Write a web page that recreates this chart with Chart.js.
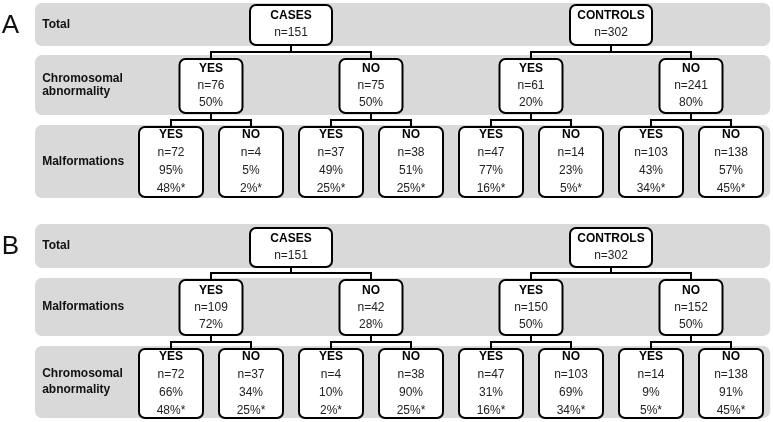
<!DOCTYPE html>
<html>
<head>
<meta charset="utf-8">
<script src="https://cdn.jsdelivr.net/npm/chart.js@4"></script>
<style>
  html, body { margin: 0; padding: 0; background: #fff; }
  #wrap { width: 773px; height: 422px; position: relative; }
</style>
</head>
<body>
<div id="wrap"><canvas id="treeChart"></canvas></div>
<script>
// data
const panelLetters = ['A', 'B'];
const rowLabelsA = [['Total'], ['Chromosomal', 'abnormality'], ['Malformations']];
const rowLabelsB = [['Total'], ['Malformations'], ['Chromosomal', 'abnormality']];
const groupNames = ['CASES', 'CONTROLS'];
const groupN = [151, 302];
const branchNames = ['YES', 'NO'];

const level2NA = [76, 75, 61, 241];
const level2PctA = [50, 50, 20, 80];
const leafNA = [72, 4, 37, 38, 47, 14, 103, 138];
const leafPctA = [95, 5, 49, 51, 77, 23, 43, 57];
const leafTotalPctA = [48, 2, 25, 25, 16, 5, 34, 45];

const level2NB = [109, 42, 150, 152];
const level2PctB = [72, 28, 50, 50];
const leafNB = [72, 37, 4, 38, 47, 103, 14, 138];
const leafPctB = [66, 34, 10, 90, 31, 69, 9, 91];
const leafTotalPctB = [48, 25, 2, 25, 16, 34, 5, 45];

// layout (y in design units, x in leaf-slot units)
const X_MIN = -2.1375, X_MAX = 7.525;
const panelLayout = [
  { bands: [[3, 46], [55, 115], [125, 198]], boxes: [[5, 45], [59, 113], [127, 197]], joins: [52, 120], labelGap: 13 },
  { bands: [[224, 268], [278, 336], [346, 418]], boxes: [[228, 267], [280, 335], [349, 418]], joins: [273, 342], labelGap: 16 }
];
const boxHalfW = [41 / 80, 31.5 / 80, 32 / 80];
const lineOffsets = [[-9, 8], [-17, 0, 17], [-27, -9, 9, 27]];
const FONT = '"Liberation Sans", Arial, sans-serif';

function buildPanel(p, level2N, level2Pct, leafN, leafPct, leafTotalPct) {
  const box = panelLayout[p].boxes;
  const mid = l => (box[l][0] + box[l][1]) / 2;
  const nodes = [];
  groupNames.forEach((g, k) => nodes.push({
    panel: p, level: 0, x: 4 * k + 1.5, y: mid(0),
    lines: [g, 'n=' + groupN[k]], children: [2 + 2 * k, 3 + 2 * k]
  }));
  level2N.forEach((n, j) => nodes.push({
    panel: p, level: 1, x: 2 * j + 0.5, y: mid(1),
    lines: [branchNames[j % 2], 'n=' + n, level2Pct[j] + '%'], children: [6 + 2 * j, 7 + 2 * j]
  }));
  leafN.forEach((n, i) => nodes.push({
    panel: p, level: 2, x: i, y: mid(2),
    lines: [branchNames[i % 2], 'n=' + n, leafPct[i] + '%', leafTotalPct[i] + '%*'], children: []
  }));
  return nodes;
}

const nodesA = buildPanel(0, level2NA, level2PctA, leafNA, leafPctA, leafTotalPctA);
const nodesB = buildPanel(1, level2NB, level2PctB, leafNB, leafPctB, leafTotalPctB);
const allNodes = nodesA.concat(nodesB);

function roundRect(ctx, x, y, w, h, r) {
  ctx.beginPath();
  ctx.moveTo(x + r, y);
  ctx.lineTo(x + w - r, y);
  ctx.arcTo(x + w, y, x + w, y + r, r);
  ctx.lineTo(x + w, y + h - r);
  ctx.arcTo(x + w, y + h, x + w - r, y + h, r);
  ctx.lineTo(x + r, y + h);
  ctx.arcTo(x, y + h, x, y + h - r, r);
  ctx.lineTo(x, y + r);
  ctx.arcTo(x, y, x + r, y, r);
  ctx.closePath();
}

const treePlugin = {
  id: 'treePlugin',
  beforeDatasetsDraw(chart) {
    const ctx = chart.ctx;
    const xs = chart.scales.x, ys = chart.scales.y;
    const pts = chart.getDatasetMeta(0).data;
    ctx.save();

    // gray bands, row labels, panel letters
    panelLayout.forEach((lay, p) => {
      const labels = p === 0 ? rowLabelsA : rowLabelsB;
      const bx0 = xs.getPixelForValue(-1.7), bx1 = xs.getPixelForValue(7.49);
      lay.bands.forEach((b, r) => {
        const y0 = ys.getPixelForValue(b[0]), y1 = ys.getPixelForValue(b[1]);
        ctx.fillStyle = '#d9d9d9';
        roundRect(ctx, bx0, y0, bx1 - bx0, y1 - y0, 7);
        ctx.fill();
        ctx.fillStyle = '#111';
        ctx.font = 'bold 12px ' + FONT;
        ctx.textAlign = 'left';
        ctx.textBaseline = 'middle';
        const cy = (y0 + y1) / 2;
        const lines = labels[r];
        lines.forEach((t, i) => {
          ctx.fillText(t, xs.getPixelForValue(-1.61), cy + (i - (lines.length - 1) / 2) * lay.labelGap);
        });
      });
      const b0 = lay.bands[0];
      ctx.font = '26px ' + FONT;
      ctx.fillStyle = '#111';
      ctx.fillText(panelLetters[p], xs.getPixelForValue(-2.115), ys.getPixelForValue((b0[0] + b0[1]) / 2) + 1);
    });

    // connectors
    ctx.strokeStyle = '#000';
    ctx.lineWidth = 2;
    allNodes.forEach((n, idx) => {
      if (!n.children.length) return;
      const lay = panelLayout[n.panel];
      const base = n.panel * nodesA.length;
      const pt = pts[idx];
      const pBottom = ys.getPixelForValue(lay.boxes[n.level][1]);
      const joinY = ys.getPixelForValue(lay.joins[n.level]);
      const cTop = ys.getPixelForValue(lay.boxes[n.level + 1][0]);
      const c0 = pts[base + n.children[0]], c1 = pts[base + n.children[1]];
      ctx.beginPath();
      ctx.moveTo(pt.x, pBottom);
      ctx.lineTo(pt.x, joinY);
      ctx.moveTo(c0.x, cTop);
      ctx.lineTo(c0.x, joinY);
      ctx.lineTo(c1.x, joinY);
      ctx.lineTo(c1.x, cTop);
      ctx.stroke();
    });

    // node boxes and text
    allNodes.forEach((n, idx) => {
      const lay = panelLayout[n.panel];
      const pt = pts[idx];
      const hw = boxHalfW[n.level];
      const x0 = xs.getPixelForValue(n.x - hw), x1 = xs.getPixelForValue(n.x + hw);
      const y0 = ys.getPixelForValue(lay.boxes[n.level][0]), y1 = ys.getPixelForValue(lay.boxes[n.level][1]);
      ctx.fillStyle = '#fff';
      ctx.strokeStyle = '#000';
      ctx.lineWidth = 2;
      roundRect(ctx, x0, y0, x1 - x0, y1 - y0, 6);
      ctx.fill();
      ctx.stroke();
      ctx.textAlign = 'center';
      ctx.textBaseline = 'middle';
      n.lines.forEach((t, i) => {
        ctx.font = (i === 0 ? 'bold ' : '') + '12px ' + FONT;
        ctx.fillStyle = i === 0 ? '#000' : '#222';
        ctx.fillText(t, pt.x, pt.y + lineOffsets[n.level][i]);
      });
    });
    ctx.restore();
  }
};

new Chart(document.getElementById('treeChart'), {
  type: 'scatter',
  data: {
    datasets: [{
      label: 'nodes',
      data: allNodes.map(n => ({ x: n.x, y: n.y + 0 })),
      pointRadius: 0,
      pointHoverRadius: 0
    }]
  },
  options: {
    responsive: true,
    maintainAspectRatio: false,
    animation: false,
    layout: { padding: 0 },
    plugins: { legend: { display: false }, tooltip: { enabled: false } },
    scales: {
      x: { type: 'linear', min: X_MIN, max: X_MAX, display: false },
      y: { type: 'linear', min: 0, max: 422, reverse: true, display: false }
    }
  },
  plugins: [treePlugin]
});
</script>
</body>
</html>
